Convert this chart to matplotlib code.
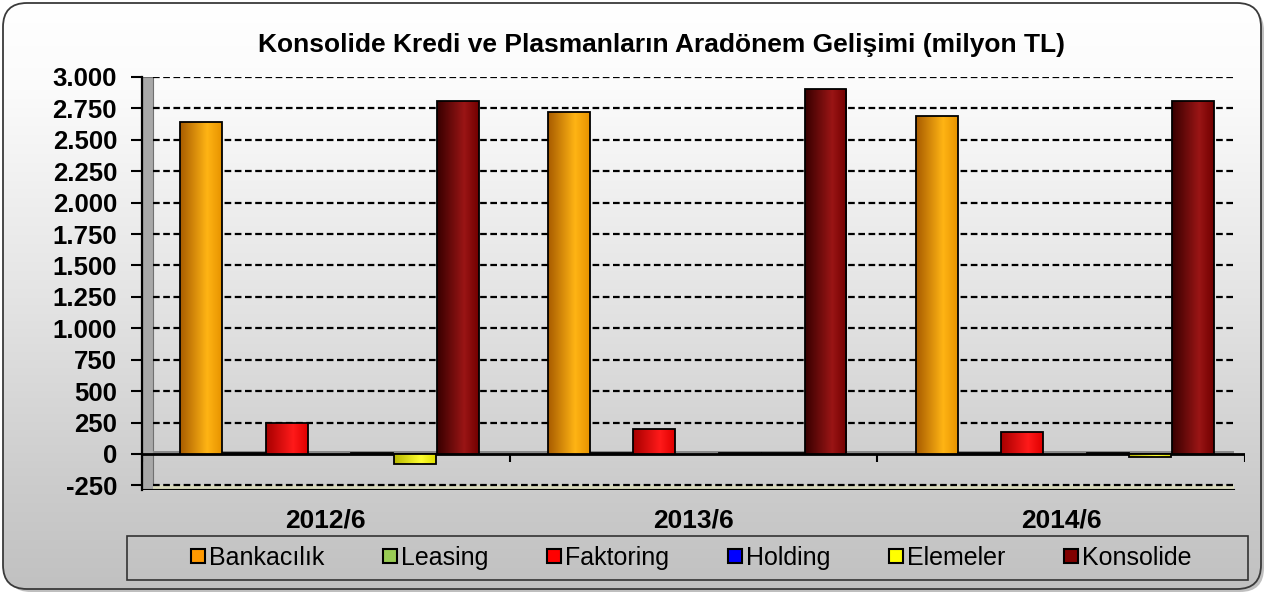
import numpy as np
import matplotlib
matplotlib.use("Agg")
import matplotlib.pyplot as plt
from matplotlib.colors import LinearSegmentedColormap
from matplotlib.patches import FancyBboxPatch, Rectangle
from matplotlib.lines import Line2D
import matplotlib.transforms as mtransforms

plt.rcParams['font.family'] = ['Liberation Sans', 'DejaVu Sans']

# ---------------- data ----------------
title = "Konsolide Kredi ve Plasmanların Aradönem Gelişimi (milyon TL)"
periods = ["2012/6", "2013/6", "2014/6"]
series_names = ["Bankacılık", "Leasing", "Faktoring", "Holding", "Elemeler", "Konsolide"]
bankacilik = [2640, 2725, 2690]
leasing = [8, 8, 8]
faktoring = [245, 200, 175]
holding = [4, 4, 4]
elemeler = [-80, 5, -25]
konsolide = [2810, 2905, 2810]
y_ticks = [-250, 0, 250, 500, 750, 1000, 1250, 1500, 1750, 2000, 2250, 2500, 2750, 3000]
y_tick_labels = ["-250", "0", "250", "500", "750", "1.000", "1.250", "1.500",
                 "1.750", "2.000", "2.250", "2.500", "2.750", "3.000"]

series_values = [bankacilik, leasing, faktoring, holding, elemeler, konsolide]

# ---------------- style ----------------
legend_colors = ["#ff9900", "#99cc55", "#ff0000", "#0000ff", "#ffff00", "#800000"]
grad_colors = [
    ["#a85c00", "#ffb414", "#e89400"],
    ["#6a9a30", "#aee070", "#8cc050"],
    ["#a80000", "#ff1a1a", "#e00000"],
    ["#000090", "#2020ff", "#0000d0"],
    ["#b8b800", "#ffff30", "#e0e000"],
    ["#380000", "#9a1515", "#720000"],
]
slots = [-3, -2, -1, 1, 2, 3]
slot_w = 0.1163
shift = 0.01

W, H = 1268, 596
fig = plt.figure(figsize=(W / 100, H / 100), dpi=100)
fig.patch.set_facecolor("white")

# background panel
bg = fig.add_axes([0, 0, 1, 1])
bg.set_xlim(0, W)
bg.set_ylim(H, 0)
bg.axis("off")
shadow = FancyBboxPatch((7, 7), W - 11, H - 11, boxstyle="round,pad=0,rounding_size=24",
                        fc="#8c8c8c", ec="none", alpha=0.55)
bg.add_patch(shadow)
box = FancyBboxPatch((3, 3), W - 10, H - 10, boxstyle="round,pad=0,rounding_size=24",
                     fc="white", ec="none")
bg.add_patch(box)
bg_cmap = LinearSegmentedColormap.from_list(
    "bg", [(0, "#ffffff"), (0.15, "#fbfbfb"), (0.5, "#e4e4e4"), (0.8, "#cdcdcd"), (1.0, "#c0c0c0")])
grad = np.linspace(0, 1, 256)[:, None]
im = bg.imshow(grad, cmap=bg_cmap, extent=[0, W, H, 0], aspect="auto", zorder=1)
im.set_clip_path(box)
border = FancyBboxPatch((3, 3), W - 10, H - 10, boxstyle="round,pad=0,rounding_size=24",
                        fc="none", ec="#3a3a3a", lw=1.3, zorder=2)
bg.add_patch(border)
bg.add_patch(Rectangle((127, 536), 1121, 44, fc="none", ec="#333333", lw=1.2, zorder=3))
bg.set_xlim(0, W)
bg.set_ylim(H, 0)

# main axes
top_px, bot_px = 77, 490.4
ax = fig.add_axes([142 / W, (H - bot_px) / H, (1245 - 142) / W, (bot_px - top_px) / H])
ax.patch.set_visible(False)
ymin, ymax = -290, 3000
n = len(periods)

# wall and floor
trans = mtransforms.blended_transform_factory(ax.transAxes, ax.transData)
ax.add_patch(Rectangle((0, ymin), 0.01, ymax - ymin, transform=trans,
                       fc="#a8a8a8", ec="#707070", lw=0.8, zorder=0.5))
ax.axhspan(ymin, y_ticks[0], xmin=0.01, xmax=0.99, fc="#d8d8bc", ec="none", zorder=0.6)
ax.axhline(ymin, xmin=0.0, xmax=0.99, color="black", lw=1.5, zorder=0.7)

for yv in y_ticks:
    if yv != 0:
        ax.axhline(yv, xmin=0.01, xmax=0.99, color="black", lw=1.6,
                   ls=(0, (3, 1.6)), zorder=1)

ax.axhspan(0, 22, xmin=0.01, xmax=0.99, fc="#8a8a8a", ec="none", zorder=1.5)
ax.axhline(0, xmin=0, xmax=1, color="black", lw=2, zorder=2)
ax.vlines(np.arange(n + 1) - 0.5, -65, 0, color="black", lw=1.5, zorder=2)

# bars with cylinder-like gradient
row = np.linspace(0, 1, 64)[None, :]
for i, vals in enumerate(series_values):
    xs = np.arange(n) + slots[i] * slot_w + shift
    cm = LinearSegmentedColormap.from_list(
        f"c{i}", [(0, grad_colors[i][0]), (0.65, grad_colors[i][1]), (1.0, grad_colors[i][2])])
    bars = ax.bar(xs, vals, width=slot_w * 0.98, color=legend_colors[i], zorder=3)
    for r in bars:
        x0, y0 = r.get_x(), r.get_y()
        gi = ax.imshow(row, cmap=cm, extent=[x0, x0 + r.get_width(), y0, y0 + r.get_height()],
                       aspect="auto", zorder=3.2)
        gi.set_clip_path(r)
    ax.bar(xs, vals, width=slot_w * 0.98, fill=False, edgecolor="black", lw=1.3, zorder=3.4)

ax.set_xlim(-0.5, n - 0.5)
ax.set_ylim(ymin, ymax)

for s in ["top", "right", "bottom"]:
    ax.spines[s].set_visible(False)
ax.spines["left"].set_color("black")
ax.spines["left"].set_linewidth(1.6)
ax.spines["left"].set_zorder(2.5)

ax.set_yticks(y_ticks, y_tick_labels, fontsize=18.5, fontweight="bold")
ax.tick_params(axis="y", length=8, width=1.5, pad=10)
ax.set_xticks(range(n), periods, fontsize=19, fontweight="bold")
ax.tick_params(axis="x", length=0, pad=13)

fig.text(662 / W, 1 - 45 / H, title, ha="center", va="center",
         fontsize=19, fontweight="bold")

handles = [Line2D([], [], marker="s", ls="none", markersize=10, mfc=c, mec="black", mew=1.5)
           for c in legend_colors]
fig.legend(handles, series_names, loc="center", bbox_to_anchor=(691 / W, 1 - 558 / H),
           ncol=6, frameon=False, fontsize=18, handlelength=0.6, handletextpad=0.12,
           columnspacing=2.35, borderpad=0)

fig.savefig("out.png", dpi=100)
